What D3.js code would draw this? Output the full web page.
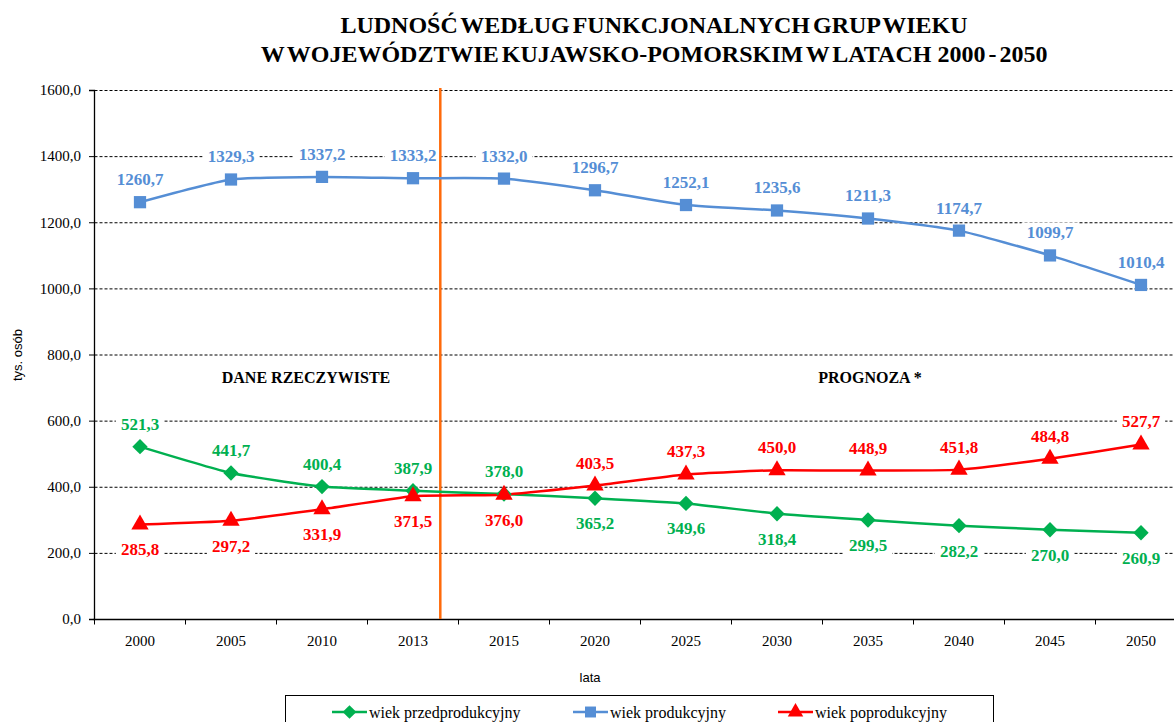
<!DOCTYPE html>
<html>
<head>
<meta charset="utf-8">
<script src="https://cdn.jsdelivr.net/npm/d3@7"></script>
<style>
  body { margin: 0; background: #fff; }
  svg text { font-family: "Liberation Serif", "Times New Roman", Times, "DejaVu Serif", serif; }
</style>
</head>
<body>
<div id="chart"></div>
<script>
// --- data ---
var years = ["2000", "2005", "2010", "2013", "2015", "2020", "2025", "2030", "2035", "2040", "2045", "2050"];
var przedprodukcyjny = [521.3, 441.7, 400.4, 387.9, 378.0, 365.2, 349.6, 318.4, 299.5, 282.2, 270.0, 260.9];
var produkcyjny = [1260.7, 1329.3, 1337.2, 1333.2, 1332.0, 1296.7, 1252.1, 1235.6, 1211.3, 1174.7, 1099.7, 1010.4];
var poprodukcyjny = [285.8, 297.2, 331.9, 371.5, 376.0, 403.5, 437.3, 450.0, 448.9, 451.8, 484.8, 527.7];
var yTicks = [0, 200, 400, 600, 800, 1000, 1200, 1400, 1600];
var titleLines = ["LUDNOŚĆ WEDŁUG FUNKCJONALNYCH GRUP WIEKU", "W WOJEWÓDZTWIE KUJAWSKO-POMORSKIM W LATACH  2000 - 2050"];

var width = 1174, height = 722;
var serif = "'Liberation Serif', 'Times New Roman', Times, 'DejaVu Serif', serif";
var sans = "'Liberation Sans Narrow', 'Liberation Sans', Arial, sans-serif";
var fmt = function (v) { return d3.format(".1f")(v).replace(".", ","); };

var svg = d3.select("#chart").append("svg")
    .attr("width", width)
    .attr("height", height)
    .style("font-family", serif);

var x = d3.scaleBand().domain(years).range([94.5, 1186.5]).padding(0);
var y = d3.scaleLinear().domain([0, 1600]).range([619, 90]);
var cx = function (d, i) { return x(years[i]) + x.bandwidth() / 2; };

// title
svg.append("g").selectAll("text")
    .data(titleLines)
  .enter().append("text")
    .attr("x", 654)
    .attr("y", function (d, i) { return 33 + i * 29; })
    .attr("text-anchor", "middle")
    .style("font-family", serif)
    .style("font-size", "24px")
    .style("font-weight", "bold")
    .style("word-spacing", "-3px")
    .style("white-space", "pre")
    .text(function (d) { return d; });

// gridlines
svg.append("g").selectAll("line")
    .data(yTicks.filter(function (t) { return t > 0; }))
  .enter().append("line")
    .attr("x1", x.range()[0]).attr("x2", x.range()[1])
    .attr("y1", function (d) { return y(d) + 0.5; })
    .attr("y2", function (d) { return y(d) + 0.5; })
    .attr("stroke", "#000")
    .attr("stroke-width", 1)
    .attr("stroke-dasharray", "3,2");

// y axis
var yAxis = svg.append("g")
    .attr("transform", "translate(" + (x.range()[0] - 0.5) + ",0)")
    .call(d3.axisLeft(y).tickValues(yTicks).tickFormat(fmt).tickSize(5).tickPadding(8));
yAxis.attr("font-family", null);
yAxis.select(".domain").attr("stroke", "#000").attr("stroke-width", 1.3);
yAxis.selectAll("text").style("font-size", "15px").style("font-family", serif).attr("fill", "#000");

// x axis (ticks at category boundaries)
var xAxisG = svg.append("g").attr("transform", "translate(0," + (y(0) + 0.5) + ")");
xAxisG.append("line")
    .attr("x1", x.range()[0] - 1).attr("x2", x.range()[1])
    .attr("stroke", "#000").attr("stroke-width", 1.3);
xAxisG.selectAll("line.tk")
    .data(years.concat(["end"]))
  .enter().append("line")
    .attr("class", "tk")
    .attr("x1", function (d, i) { return x.range()[0] + i * x.bandwidth(); })
    .attr("x2", function (d, i) { return x.range()[0] + i * x.bandwidth(); })
    .attr("y1", 0).attr("y2", 5)
    .attr("stroke", "#000");
xAxisG.selectAll("text")
    .data(years)
  .enter().append("text")
    .attr("x", cx)
    .attr("y", 26)
    .attr("text-anchor", "middle")
    .style("font-family", serif)
    .style("font-size", "15px")
    .text(function (d) { return d; });

// axis titles
svg.append("text")
    .attr("x", 590).attr("y", 682)
    .attr("text-anchor", "middle")
    .style("font-family", sans)
    .style("font-size", "13px")
    .text("lata");
svg.append("text")
    .attr("transform", "translate(22,355) rotate(-90)")
    .attr("text-anchor", "middle")
    .style("font-family", sans)
    .style("font-size", "13px")
    .text("tys. osób");

// region labels
svg.append("text")
    .attr("x", 306).attr("y", 383)
    .attr("text-anchor", "middle")
    .style("font-family", serif)
    .style("font-size", "16px").style("font-weight", "bold")
    .text("DANE RZECZYWISTE");
svg.append("text")
    .attr("x", 870).attr("y", 383)
    .attr("text-anchor", "middle")
    .style("font-family", serif)
    .style("font-size", "16px").style("font-weight", "bold")
    .text("PROGNOZA *");

// series
var series = [
  { name: "wiek przedprodukcyjny", values: przedprodukcyjny, color: "#00B050", marker: d3.symbolDiamond2, msize: 150,
    below: function (i) { return i >= 5; } },
  { name: "wiek produkcyjny", values: produkcyjny, color: "#558ED5", marker: d3.symbolSquare, msize: 150,
    below: function () { return false; } },
  { name: "wiek poprodukcyjny", values: poprodukcyjny, color: "#FF0000", marker: d3.symbolTriangle, msize: 130,
    below: function (i) { return i < 5; } }
];

var line = d3.line()
    .x(cx)
    .y(function (d) { return y(d); })
    .curve(d3.curveCardinal.tension(0.5));

// data labels with white background
series.forEach(function (s) {
  var g = svg.append("g").selectAll("g")
      .data(s.values)
    .enter().append("g")
      .attr("transform", function (d, i) {
        var dy = s.below(i) ? 25 : -23;
        return "translate(" + cx(d, i) + "," + (y(d) + dy) + ")";
      });
  var rect = g.append("rect").attr("fill", "#fff");
  var txt = g.append("text")
      .attr("text-anchor", "middle")
      .attr("dy", "0.35em")
      .style("font-family", serif)
      .style("font-size", "17px")
      .style("font-weight", "bold")
      .attr("fill", s.color)
      .text(fmt);
  rect.each(function (d, i) {
    var w = txt.nodes()[i].getComputedTextLength() + 10;
    d3.select(this).attr("x", -w / 2).attr("y", -10).attr("width", w).attr("height", 20);
  });
});

// divider between real data and forecast
var splitX = x("2013") + x.bandwidth() * 0.8;
svg.append("line")
    .attr("x1", splitX).attr("x2", splitX)
    .attr("y1", 88).attr("y2", y(0))
    .attr("stroke", "#FF6A0A")
    .attr("stroke-width", 2.5);

series.forEach(function (s) {
  svg.append("path")
      .datum(s.values)
      .attr("d", line)
      .attr("fill", "none")
      .attr("stroke", s.color)
      .attr("stroke-width", 2.5);
});

series.forEach(function (s) {
  svg.append("g").selectAll("path")
      .data(s.values)
    .enter().append("path")
      .attr("transform", function (d, i) { return "translate(" + cx(d, i) + "," + y(d) + ")"; })
      .attr("d", d3.symbol().type(s.marker).size(s.msize))
      .attr("fill", s.color);
});

// legend
var legend = svg.append("g");
legend.append("rect")
    .attr("x", 285.5).attr("y", 695.5)
    .attr("width", 708).attr("height", 40)
    .attr("fill", "#fff")
    .attr("stroke", "#000");
var legendX = [332, 573, 778];
series.forEach(function (s, i) {
  var lg = legend.append("g").attr("transform", "translate(" + legendX[i] + ",712)");
  lg.append("line").attr("x1", 0).attr("x2", 35).attr("stroke", s.color).attr("stroke-width", 2.5);
  lg.append("path")
      .attr("transform", "translate(17.5,0)")
      .attr("d", d3.symbol().type(s.marker).size(s.msize * 0.8))
      .attr("fill", s.color);
  lg.append("text")
      .attr("x", 37).attr("dy", "0.35em")
      .style("font-family", serif)
      .style("font-size", "16px")
      .text(s.name);
});
</script>
</body>
</html>
